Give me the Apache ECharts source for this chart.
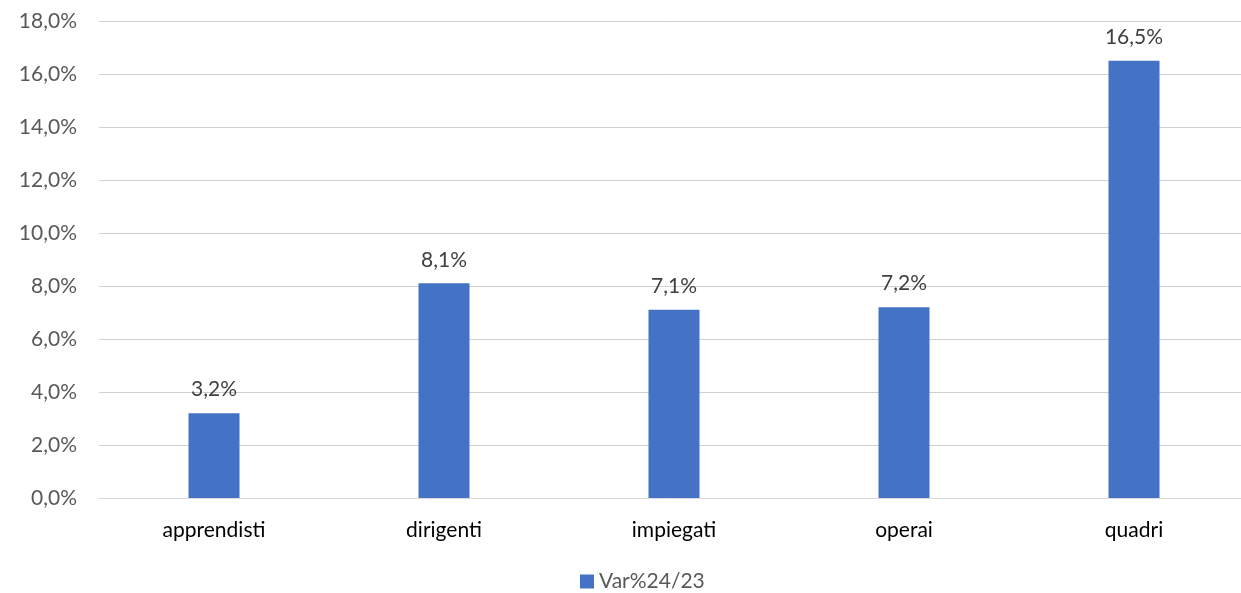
<!DOCTYPE html>
<html><head><meta charset="utf-8">
<script src="https://cdn.jsdelivr.net/npm/echarts@6/dist/echarts.min.js"></script>
<style>html,body{margin:0;padding:0;background:#fff}#c{width:1241px;height:593px}</style>
</head><body><div id="c"></div>
<script>
const categories = ['apprendisti','dirigenti','impiegati','operai','quadri'];
const values = [3.2, 8.1, 7.1, 7.2, 16.5];
const seriesName = 'Var%24/23';
const fmt = v => v.toFixed(1).replace('.', ',') + '%';
const chart = echarts.init(document.getElementById('c'));
chart.setOption({
  animation: false,
  textStyle: {fontFamily: 'Lato'},
  grid: {left: 99, width: 1150, top: 21, height: 477, outerBoundsMode: 'none', containLabel: false},
  legend: {top: 566, left: 575, itemWidth: 14, itemHeight: 14, itemGap: 4,
    icon: 'rect', textStyle: {color: '#595959', fontSize: 21, fontFamily: 'Lato'}, data: [seriesName]},
  xAxis: {type: 'category', data: categories,
    axisLine: {lineStyle: {color: '#d9d9d9', width: 1}}, axisTick: {show: false},
    axisLabel: {color: '#000', fontSize: 21, margin: 22, fontFamily: 'Lato'}},
  yAxis: {type: 'value', min: 0, max: 18, interval: 2,
    axisLine: {show: false}, axisTick: {show: false},
    axisLabel: {color: '#595959', fontSize: 21, margin: 22, formatter: v => fmt(v), fontFamily: 'Lato'},
    splitLine: {lineStyle: {color: '#d0d0d0', width: 1}}},
  series: [{name: seriesName, type: 'bar', data: values, barWidth: 51,
    itemStyle: {color: '#4472C4'},
    label: {show: true, position: 'top', distance: 13, color: '#404040', fontSize: 21,
      fontFamily: 'Lato', formatter: p => fmt(p.value)}}]
});
</script></body></html>
